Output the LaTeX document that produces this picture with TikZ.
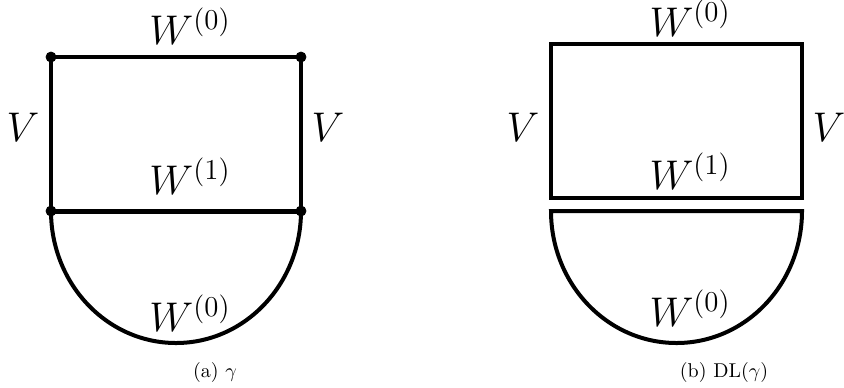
\documentclass[tikz,border=0pt]{standalone}
\usepackage{amsmath,amssymb}
\usetikzlibrary{positioning}
\tikzstyle{pnt}=[draw,circle,fill,inner sep=0pt,minimum size=5pt]
\tikzstyle{edg}=[line width=2pt]
\tikzstyle{lbl}=[inner sep=0pt,font=\fontsize{20}{24}\selectfont]
\tikzstyle{capt}=[inner sep=0pt,font=\fontsize{10}{12}\selectfont]

\begin{document}
\begin{tikzpicture}[x=0.5pt,y=-0.5pt]
\useasboundingbox (0,0) rectangle (844,387);
% (a) the graph
\foreach \n/\x/\y in {a1/51/57,a2/301/57,a3/51/211,a4/301/211}{\node[pnt] at (\x,\y)(\n){};}
\draw[edg] (a3.center) -- (a1.center) -- (a2.center) -- (a4.center);
\draw[line width=2.5pt] (a3.center) -- (a4.center);
\draw[edg] (a3.center) arc[start angle=180,end angle=0,x radius=125,y radius=132];
\node[lbl] (atop) at (190,26) {$W^{(0)}$};
\node[lbl] (aleft) at (23,127) {$V$};
\node[lbl] (aright) at (328,127) {$V$};
\node[lbl] (amid) at (190,176) {$W^{(1)}$};
\node[lbl] (abot) at (190,313) {$W^{(0)}$};
\node[capt] (acap) at (215,372) {(a) $\gamma$};

% (b) its doubled loop
\coordinate (b1) at (551,44);
\coordinate (b2) at (802,198);
\coordinate (b3) at (551,211);
\coordinate (b4) at (802,211);
\draw[edg] (b1) rectangle (b2);
\draw[edg] (b3) -- (b4) arc[start angle=0,end angle=180,x radius=125.5,y radius=132] -- cycle;
\node[lbl] (btop) at (690,18) {$W^{(0)}$};
\node[lbl] (bleft) at (523,127) {$V$};
\node[lbl] (bright) at (829,127) {$V$};
\node[lbl] (bmid) at (690,171) {$W^{(1)}$};
\node[lbl] (bbot) at (690,308) {$W^{(0)}$};
\node[capt] (bcap) at (724,372) {(b) $\mathrm{DL}(\gamma)$};
\end{tikzpicture}
\end{document}
